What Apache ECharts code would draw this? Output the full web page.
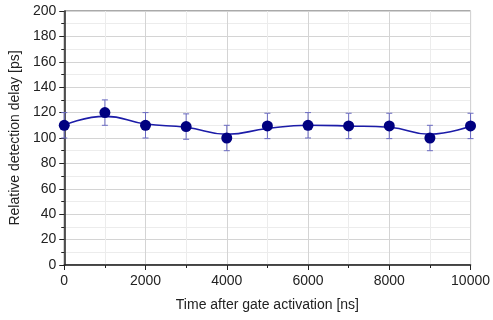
<!DOCTYPE html>
<html>
<head>
<meta charset="utf-8">
<script src="https://cdn.jsdelivr.net/npm/echarts@6/dist/echarts.min.js"></script>
<style>
  html, body { margin: 0; padding: 0; background: #fff; }
  #chart { width: 493px; height: 320px; }
</style>
</head>
<body>
<div id="chart"></div>
<script>
// measured points (time in ns, delay in ps)
const times = [0, 1000, 2000, 3000, 4000, 5000, 6000, 7000, 8000, 9000, 10000];
const delays = [110, 120, 110, 109, 100, 109.5, 110, 109.5, 109.5, 100, 109.5];
const errors = [10, 10, 10, 10, 10, 10, 10, 10, 10, 10, 10];
// smooth fit curve at the same times
const fitDelays = [110, 117, 111, 108.5, 103, 107.5, 110, 109.5, 108.5, 103, 109.5];

const chart = echarts.init(document.getElementById('chart'));

const font = 'Liberation Sans, Arial, sans-serif';

const option = {
  animation: false,
  backgroundColor: '#fff',
  grid: {
    left: 63,
    right: 21,
    top: 11,
    bottom: 55,
    show: true,
    borderColor: '#555',
    borderWidth: 1,
    backgroundColor: 'transparent'
  },
  xAxis: {
    type: 'value',
    min: 0,
    max: 10000,
    interval: 2000,
    name: 'Time after gate activation [ns]',
    nameLocation: 'middle',
    nameGap: 33,
    nameTextStyle: { color: '#222', fontSize: 14, fontFamily: font },
    axisLine: { show: true, lineStyle: { color: '#222', width: 1.5 } },
    axisTick: { show: true, length: 5, lineStyle: { color: '#222' } },
    minorTick: { show: true, splitNumber: 2, length: 3, lineStyle: { color: '#222' } },
    axisLabel: { color: '#222', fontSize: 14, fontFamily: font, margin: 9, formatter: v => String(v) },
    splitLine: { show: true, lineStyle: { color: '#d4d4d4', width: 1 } },
    minorSplitLine: { show: true, lineStyle: { color: '#ececec', width: 1 } }
  },
  yAxis: {
    type: 'value',
    min: 0,
    max: 200,
    interval: 20,
    name: 'Relative detection delay [ps]',
    nameLocation: 'middle',
    nameGap: 38,
    nameTextStyle: { color: '#222', fontSize: 14, fontFamily: font },
    axisLine: { show: true, lineStyle: { color: '#222', width: 1.5 } },
    axisTick: { show: true, length: 5, lineStyle: { color: '#222' } },
    minorTick: { show: true, splitNumber: 2, length: 3, lineStyle: { color: '#222' } },
    axisLabel: { color: '#222', fontSize: 14, fontFamily: font, margin: 8 },
    splitLine: { show: true, lineStyle: { color: '#d4d4d4', width: 1 } },
    minorSplitLine: { show: true, lineStyle: { color: '#ececec', width: 1 } }
  },
  series: [
    {
      name: 'Fit',
      type: 'line',
      data: times.map((t, i) => [t, fitDelays[i]]),
      smooth: 0.5,
      symbol: 'none',
      lineStyle: { color: '#1c1ca8', width: 1.6 },
      z: 2
    },
    {
      name: 'Error',
      type: 'custom',
      data: times.map((t, i) => [t, delays[i] - errors[i], delays[i] + errors[i]]),
      clip: false,
      renderItem: (params, api) => {
        const lo = api.coord([api.value(0), api.value(1)]);
        const hi = api.coord([api.value(0), api.value(2)]);
        const cap = 3;
        const style = { stroke: '#6a6ac0', lineWidth: 1 };
        return {
          type: 'group',
          children: [
            { type: 'line', shape: { x1: lo[0], y1: lo[1], x2: hi[0], y2: hi[1] }, style },
            { type: 'line', shape: { x1: lo[0] - cap, y1: lo[1], x2: lo[0] + cap, y2: lo[1] }, style },
            { type: 'line', shape: { x1: hi[0] - cap, y1: hi[1], x2: hi[0] + cap, y2: hi[1] }, style }
          ]
        };
      },
      z: 3
    },
    {
      name: 'Data',
      type: 'scatter',
      data: times.map((t, i) => [t, delays[i]]),
      symbol: 'circle',
      symbolSize: 11,
      clip: false,
      itemStyle: { color: '#000080', opacity: 1 },
      z: 4
    }
  ]
};

chart.setOption(option);
</script>
</body>
</html>
